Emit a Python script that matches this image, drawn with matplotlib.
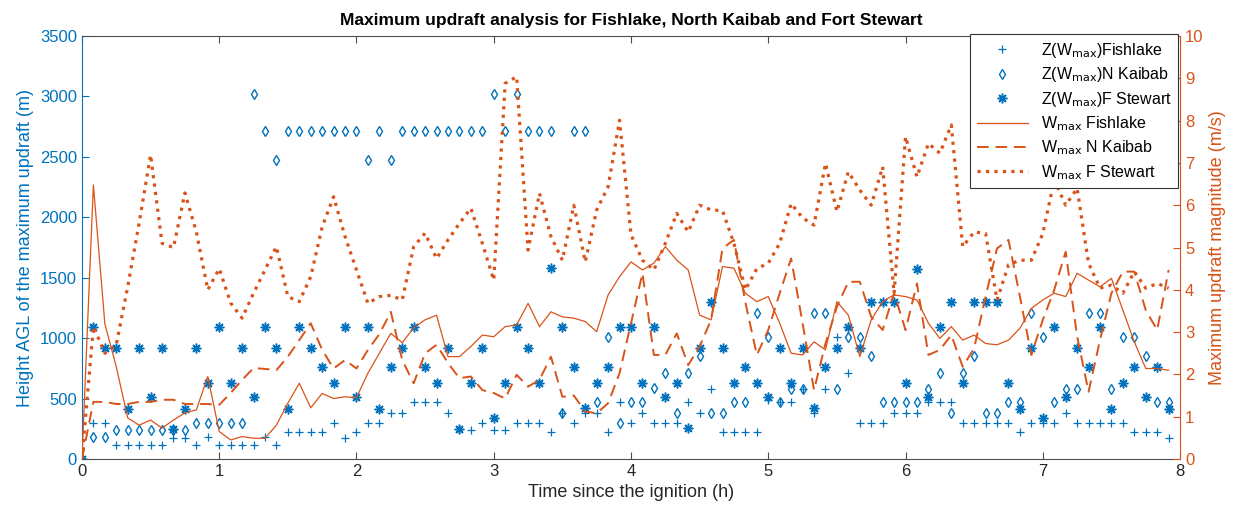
import numpy as np
import matplotlib.pyplot as plt

# time axis: 5 minute steps (h)
time = np.arange(96) / 12.0

# height of the max updraft (m)
z_fish = [0, 300, 300, 116, 116, 116, 116, 116, 170, 170,
          116, 180, 116, 116, 116, 116, 180, 116, 226, 226,
          226, 226, 300, 170, 226, 300, 300, 378, 378, 474,
          474, 474, 378, 248, 240, 300, 240, 240, 300, 300,
          300, 226, 378, 300, 378, 378, 226, 474, 300, 383,
          300, 300, 300, 474, 383, 579, 226, 226, 226, 226,
          486, 474, 474, 579, 378, 579, 1012, 708, 300, 300,
          300, 383, 383, 383, 474, 474, 474, 300, 300, 300,
          300, 300, 226, 300, 300, 300, 383, 300, 300, 300,
          300, 300, 226, 226, 226, 171]
z_kaibab = [0, 180, 180, 240, 240, 240, 240, 240, 240, 240,
            300, 300, 300, 300, 300, 3019, 2713, 2473, 2713, 2713,
            2713, 2713, 2713, 2713, 2713, 2473, 2713, 2473, 2713, 2713,
            2713, 2713, 2713, 2713, 2713, 2713, 3019, 2713, 3019, 2713,
            2713, 2713, 378, 2713, 2713, 474, 1012, 300, 474, 474,
            584, 713, 383, 713, 852, 383, 383, 474, 474, 1205,
            1012, 474, 579, 579, 1205, 1205, 579, 1012, 1012, 852,
            474, 474, 474, 474, 579, 708, 383, 708, 852, 383,
            383, 474, 474, 1205, 1012, 474, 579, 579, 1205, 1205,
            579, 1012, 1012, 852, 474, 474]
z_stewart = [0, 1094, 918, 918, 413, 918, 515, 918, 248, 413,
             918, 631, 1094, 631, 918, 515, 1094, 918, 413, 1094,
             918, 758, 631, 1094, 515, 1094, 413, 758, 918, 1094,
             758, 631, 918, 248, 631, 918, 339, 631, 1094, 918,
             631, 1577, 1094, 758, 419, 631, 758, 1094, 1094, 631,
             1094, 515, 631, 254, 918, 1301, 918, 631, 758, 631,
             515, 918, 631, 918, 419, 758, 918, 1094, 918, 1301,
             1301, 1301, 631, 1569, 515, 1094, 1301, 631, 1301, 1301,
             1301, 631, 413, 918, 339, 1094, 515, 918, 758, 1094,
             413, 631, 758, 515, 758, 413]

# max updraft magnitude (m/s)
w_fish = [0, 6.48, 3.2, 2.18, 0.97, 0.8, 0.92, 0.73, 0.92, 1.09,
          1.16, 1.95, 0.65, 0.45, 0.53, 0.49, 0.49, 0.8, 1.32, 1.79,
          1.21, 1.55, 1.43, 1.47, 1.45, 2.03, 2.5, 2.97, 2.75, 3.1,
          3.29, 3.4, 2.42, 2.42, 2.66, 2.93, 2.89, 3.13, 3.17, 3.68,
          3.13, 3.48, 3.36, 3.33, 3.25, 3.01, 3.88, 4.31, 4.66, 4.47,
          4.63, 5.02, 4.7, 4.47, 3.4, 3.29, 4.55, 4.51, 3.92, 3.72,
          3.84, 3.21, 2.5, 2.46, 2.77, 2.58, 3.72, 3.4, 2.42, 3.29,
          3.72, 3.88, 3.84, 3.76, 3.21, 2.85, 3.13, 2.81, 2.93, 2.73,
          2.7, 2.81, 3.09, 3.56, 3.76, 3.92, 3.84, 4.39, 4.23, 4.07,
          4.27, 3.52, 2.77, 2.14, 2.14, 2.1]
w_kaibab = [0, 1.35, 1.35, 1.3, 1.3, 1.35, 1.35, 1.4, 1.4, 1.3,
            1.3, 1.3, 1.28, 1.56, 1.87, 2.15, 2.13, 2.1, 2.42, 2.81,
            3.21, 2.58, 2.14, 2.34, 2.14, 2.58, 2.95, 3.48, 2.34, 1.79,
            2.5, 2.7, 2.27, 1.91, 1.95, 1.63, 1.56, 1.43, 1.99, 1.71,
            1.87, 2.42, 1.47, 1.5, 1.12, 1.08, 1.32, 2.03, 3.21, 4.39,
            2.46, 2.46, 2.97, 2.22, 2.66, 3.29, 4.98, 5.18, 3.7, 2.46,
            3.05, 3.92, 4.74, 3.21, 1.63, 2.73, 3.6, 4.19, 4.19, 3.36,
            3.05, 3.92, 3.05, 4.15, 2.46, 2.58, 2.93, 2.18, 2.62, 3.84,
            4.98, 5.18, 3.84, 2.46, 3.29, 4.0, 4.9, 2.9, 1.59, 2.81,
            3.92, 4.43, 4.43, 3.52, 3.05, 4.47]
w_stewart = [0, 3.13, 2.5, 2.7, 4.07, 5.58, 7.19, 5.1, 5.0, 6.29,
             5.37, 4.0, 4.5, 3.69, 3.33, 3.92, 4.47, 5.02, 3.84, 3.72,
             4.31, 5.49, 6.2, 5.26, 4.47, 3.68, 3.84, 3.87, 3.76, 5.02,
             5.34, 4.74, 5.18, 5.57, 5.93, 5.1, 4.23, 8.88, 9.04, 4.94,
             6.28, 5.26, 4.7, 6.0, 4.66, 5.89, 6.44, 8.01, 5.3, 4.7,
             4.47, 5.1, 5.81, 5.37, 6.0, 5.89, 5.87, 5.1, 4.0, 4.5,
             4.63, 5.1, 6.04, 5.7, 5.53, 6.99, 5.85, 6.79, 6.36, 6.0,
             6.91, 3.92, 7.62, 6.67, 7.46, 7.23, 7.9, 5.02, 5.37, 5.33,
             3.76, 4.59, 4.7, 4.7, 5.33, 6.6, 6.0, 6.4, 4.63, 4.04,
             4.11, 3.92, 4.43, 4.04, 4.15, 4.04]

blue = '#0072BD'
orange = '#D95319'
grey = '#4d4d4d'

plt.rcParams['font.family'] = ['Liberation Sans', 'DejaVu Sans']

fig = plt.figure(figsize=(12.38, 5.08), dpi=100)
ax = fig.add_axes([0.0662, 0.0965, 0.8870, 0.8325])
ax2 = ax.twinx()

h1, = ax.plot(time, z_fish, '+', color=blue, ms=6, mew=0.9,
              label=r'Z(W$_{\mathrm{max}}$)Fishlake')
h2, = ax.plot(time, z_kaibab, 'd', mfc='none', mec=blue, ms=5.5, mew=1.0,
              label=r'Z(W$_{\mathrm{max}}$)N Kaibab')
h3, = ax.plot(time, z_stewart, marker=(8, 2, 0), ls='none', color=blue, ms=7, mew=1.1,
              label=r'Z(W$_{\mathrm{max}}$)F Stewart')

h4, = ax2.plot(time, w_fish, '-', color=orange, lw=0.9,
               label=r'W$_{\mathrm{max}}$ Fishlake')
h5, = ax2.plot(time, w_kaibab, '--', dashes=(6, 3.5), color=orange, lw=1.4,
               label=r'W$_{\mathrm{max}}$ N Kaibab')
h6, = ax2.plot(time, w_stewart, ':', color=orange, lw=2.3,
               label=r'W$_{\mathrm{max}}$ F Stewart')

ax.set_xlim(0, 8)
ax.set_ylim(0, 3500)
ax2.set_ylim(0, 10)
ax.set_xticks(range(0, 9))
ax.set_yticks(range(0, 3501, 500))
ax2.set_yticks(range(0, 11))

ax.tick_params(axis='x', direction='in', top=True, colors=grey, labelcolor='#262626',
               labelsize=12, length=5)
ax.tick_params(axis='y', direction='in', colors=blue, labelsize=12, length=5)
ax2.tick_params(axis='y', direction='in', colors=orange, labelsize=12, length=5)

for s in ['top', 'bottom']:
    ax.spines[s].set_color(grey)
    ax.spines[s].set_linewidth(0.8)
    ax2.spines[s].set_visible(False)
ax.spines['left'].set_color(blue)
ax.spines['right'].set_visible(False)
ax2.spines['left'].set_visible(False)
ax2.spines['right'].set_color(orange)

ax.set_xlabel('Time since the ignition (h)', fontsize=13, color='#262626')
ax.set_ylabel('Height AGL of the maximum updraft (m)', fontsize=13, color=blue)
ax2.set_ylabel('Maximum updraft magnitude (m/s)', fontsize=13, color=orange)
ax.set_title('Maximum updraft analysis for Fishlake, North Kaibab and Fort Stewart',
             fontsize=12.5, fontweight='bold', pad=8)

leg = ax2.legend([h1, h2, h3, h4, h5, h6], [h.get_label() for h in [h1, h2, h3, h4, h5, h6]],
                 loc='upper right', bbox_to_anchor=(1.001, 1.012), fontsize=11.5,
                 fancybox=False, framealpha=1, edgecolor='#333333', handlelength=3.2,
                 borderaxespad=0.2, labelspacing=0.35)
leg.get_frame().set_linewidth(0.8)

fig.savefig('out.png', dpi=100)
